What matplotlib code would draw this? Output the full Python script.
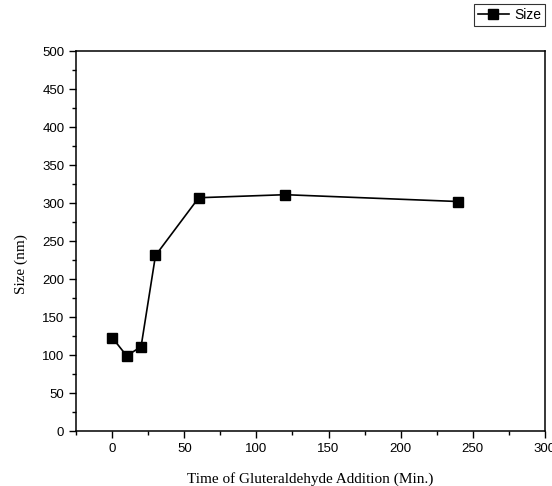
import matplotlib.pyplot as plt
from matplotlib.ticker import MultipleLocator

time_min = [0, 10, 20, 30, 60, 120, 240]
size_nm = [123, 99, 111, 231, 307, 311, 302]

fig = plt.figure(figsize=(5.52, 4.86), dpi=100)
ax = fig.add_axes([0.138, 0.113, 0.849, 0.782])

ax.plot(time_min, size_nm, color='black', lw=1.2, marker='s', markersize=7,
        label='Size')

ax.set_xlim(-25, 300)
ax.set_ylim(0, 500)
ax.xaxis.set_major_locator(MultipleLocator(50))
ax.xaxis.set_minor_locator(MultipleLocator(25))
ax.yaxis.set_major_locator(MultipleLocator(50))
ax.yaxis.set_minor_locator(MultipleLocator(25))
ax.tick_params(which='both', direction='out', top=False, right=False)
ax.tick_params(which='major', length=5, width=1)
ax.tick_params(which='minor', length=3, width=1)
for lab in ax.get_xticklabels() + ax.get_yticklabels():
    lab.set_fontfamily('Liberation Sans')
    lab.set_fontsize(9.5)
for sp in ax.spines.values():
    sp.set_linewidth(1.1)

ax.set_xlabel('Time of Gluteraldehyde Addition (Min.)', family='Liberation Serif',
              fontsize=11, labelpad=12)
ax.set_ylabel('Size (nm)', family='Liberation Serif', fontsize=11)
# label sits a bit below the axis middle in the reference
ax.yaxis.set_label_coords(-0.102, 0.44)

leg = fig.legend(loc='upper left', bbox_to_anchor=(474 / 552, 1 - 4 / 486),
                 prop={'family': 'Liberation Sans', 'size': 10}, frameon=True,
                 fancybox=False, edgecolor='black', handlelength=2.2,
                 handletextpad=0.4, borderpad=0.3, borderaxespad=0)
leg.get_frame().set_linewidth(0.8)

fig.savefig('out.png', dpi=100)
